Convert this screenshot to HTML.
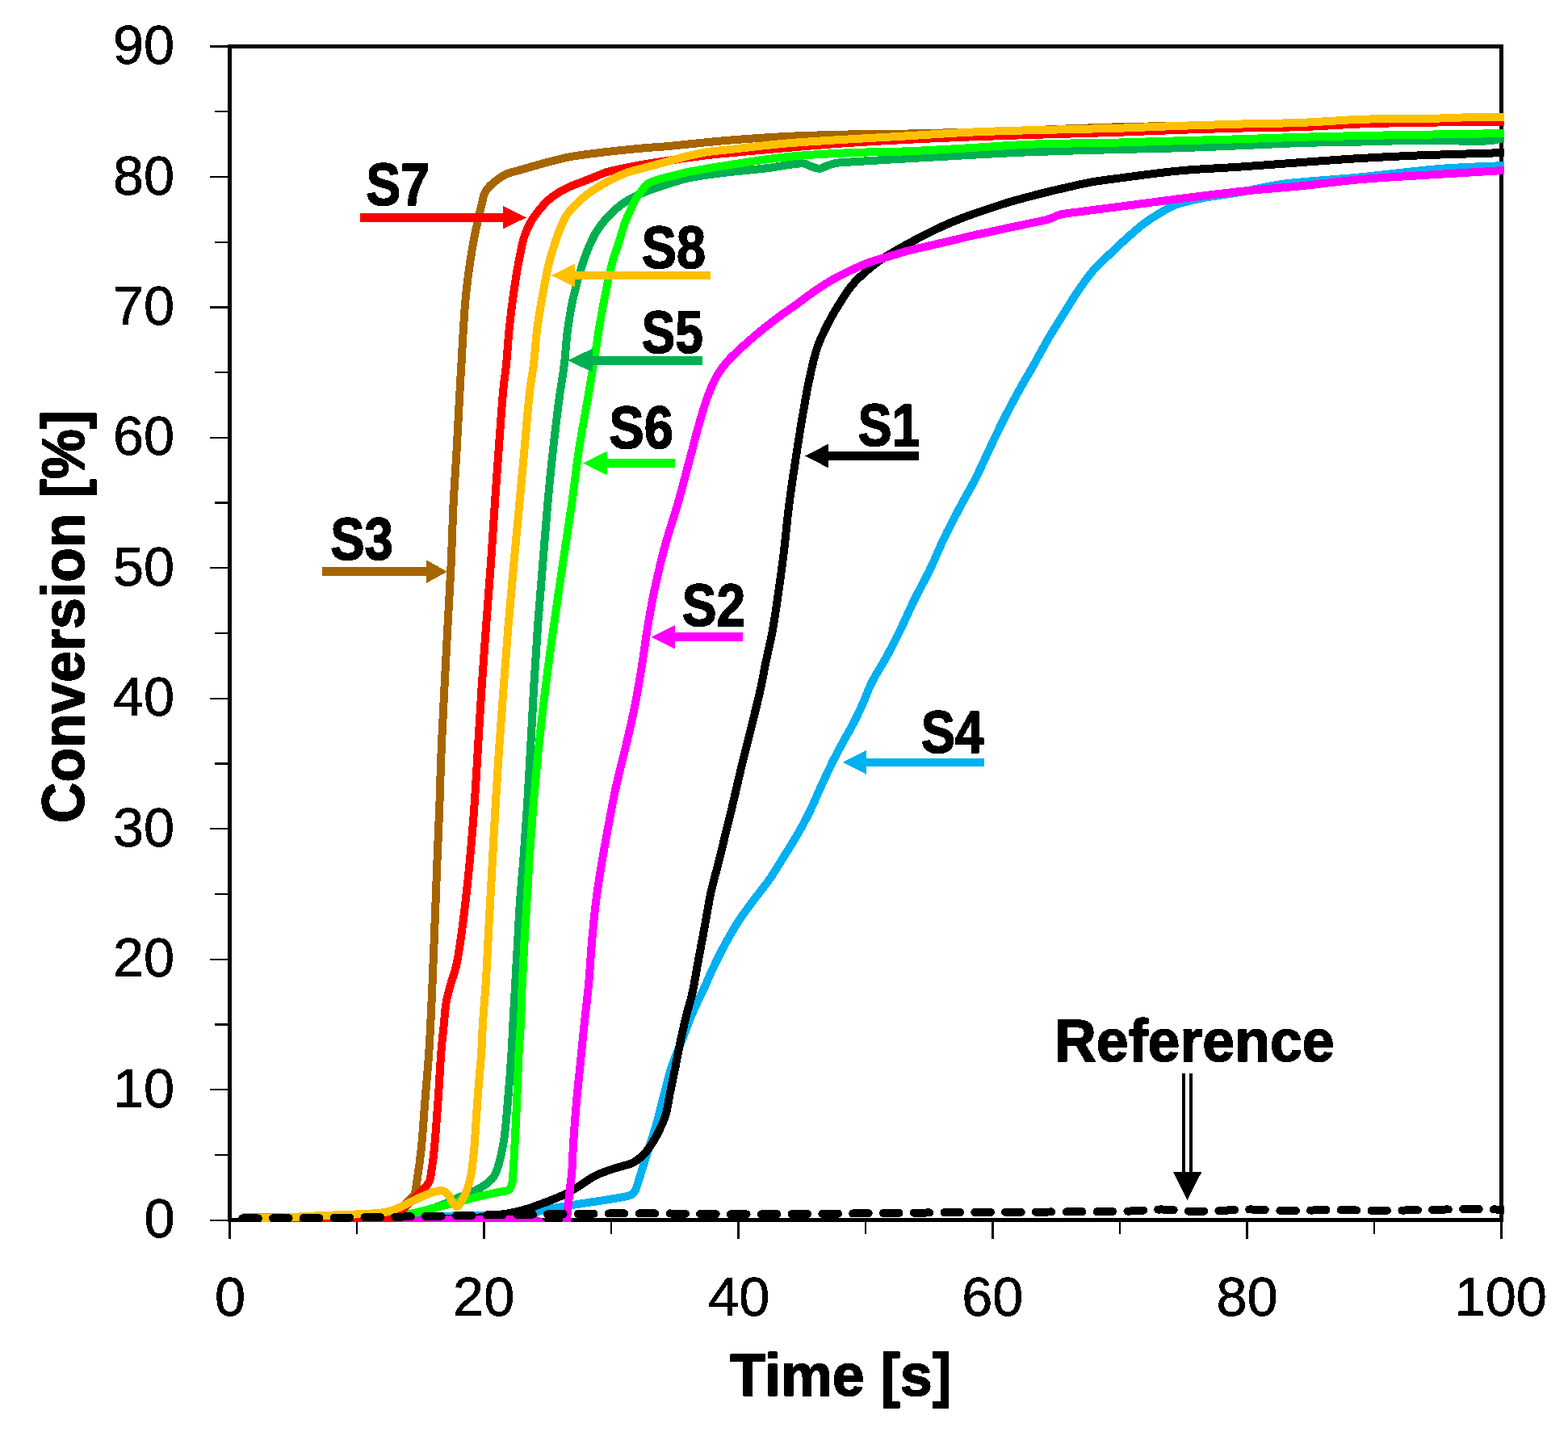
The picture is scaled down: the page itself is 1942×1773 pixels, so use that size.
<!DOCTYPE html>
<html lang="en"><head><meta charset="utf-8"><title>Conversion vs. Time</title>
<style>html,body{margin:0;padding:0;background:#fff;}body{width:1942px;height:1773px;overflow:hidden;}svg{display:block;}text{font-family:"Liberation Sans",sans-serif;fill:#000;}.b{font-weight:bold;}</style>
</head><body>
<svg xmlns="http://www.w3.org/2000/svg" width="1942" height="1773" viewBox="0 0 1942 1773" shape-rendering="crispEdges">
<rect width="1942" height="1773" fill="#fff"/>
<g stroke="#000" stroke-width="2.2" fill="none">
<line x1="260" y1="1510.60" x2="284.50" y2="1510.60"/>
<line x1="265.5" y1="1429.87" x2="284.50" y2="1429.87"/>
<line x1="260" y1="1349.14" x2="284.50" y2="1349.14"/>
<line x1="265.5" y1="1268.42" x2="284.50" y2="1268.42"/>
<line x1="260" y1="1187.69" x2="284.50" y2="1187.69"/>
<line x1="265.5" y1="1106.96" x2="284.50" y2="1106.96"/>
<line x1="260" y1="1026.23" x2="284.50" y2="1026.23"/>
<line x1="265.5" y1="945.51" x2="284.50" y2="945.51"/>
<line x1="260" y1="864.78" x2="284.50" y2="864.78"/>
<line x1="265.5" y1="784.05" x2="284.50" y2="784.05"/>
<line x1="260" y1="703.32" x2="284.50" y2="703.32"/>
<line x1="265.5" y1="622.59" x2="284.50" y2="622.59"/>
<line x1="260" y1="541.87" x2="284.50" y2="541.87"/>
<line x1="265.5" y1="461.14" x2="284.50" y2="461.14"/>
<line x1="260" y1="380.41" x2="284.50" y2="380.41"/>
<line x1="265.5" y1="299.68" x2="284.50" y2="299.68"/>
<line x1="260" y1="218.96" x2="284.50" y2="218.96"/>
<line x1="265.5" y1="138.23" x2="284.50" y2="138.23"/>
<line x1="260" y1="57.50" x2="284.50" y2="57.50"/>
<line x1="284.50" y1="1510.60" x2="284.50" y2="1533.8"/>
<line x1="442.00" y1="1510.60" x2="442.00" y2="1527.6"/>
<line x1="599.51" y1="1510.60" x2="599.51" y2="1533.8"/>
<line x1="757.01" y1="1510.60" x2="757.01" y2="1527.6"/>
<line x1="914.52" y1="1510.60" x2="914.52" y2="1533.8"/>
<line x1="1072.03" y1="1510.60" x2="1072.03" y2="1527.6"/>
<line x1="1229.53" y1="1510.60" x2="1229.53" y2="1533.8"/>
<line x1="1387.04" y1="1510.60" x2="1387.04" y2="1527.6"/>
<line x1="1544.54" y1="1510.60" x2="1544.54" y2="1533.8"/>
<line x1="1702.05" y1="1510.60" x2="1702.05" y2="1527.6"/>
<line x1="1859.55" y1="1510.60" x2="1859.55" y2="1533.8"/>
</g>
<rect x="284.50" y="57.50" width="1575.05" height="1453.10" fill="none" stroke="#000" stroke-width="5.0"/>
<defs><filter id="bw" x="-5%" y="-5%" width="110%" height="110%" color-interpolation-filters="sRGB"><feComponentTransfer><feFuncA type="discrete" tableValues="0 1"/></feComponentTransfer></filter><clipPath id="pc"><rect x="282" y="55" width="1580.9" height="1458"/></clipPath></defs>
<g fill="none" stroke-width="10.0" stroke-linejoin="round" stroke-linecap="butt" clip-path="url(#pc)">
<path d="M300.20,1510.00 C360.13,1509.50 441.58,1509.14 480.00,1508.50 C498.12,1508.20 506.67,1508.00 520.00,1507.50 C533.34,1507.00 546.66,1505.92 560.00,1505.50 C573.33,1505.08 587.62,1505.18 600.00,1505.00 C610.72,1504.84 621.01,1504.80 630.00,1504.50 C637.34,1504.26 644.07,1504.15 650.00,1503.50 C654.82,1502.97 659.23,1502.23 663.00,1501.30 C665.99,1500.56 667.86,1499.49 670.90,1498.70 C674.90,1497.66 680.22,1496.87 685.00,1496.00 C689.92,1495.10 694.36,1494.33 700.00,1493.40 C707.27,1492.20 716.66,1490.78 725.00,1489.50 C733.33,1488.23 741.40,1487.17 750.00,1485.75 C759.20,1484.23 772.94,1482.25 778.50,1480.60 C780.90,1479.89 782.11,1479.62 783.50,1478.50 C784.98,1477.31 785.87,1475.76 787.00,1473.50 C788.91,1469.69 790.44,1463.20 792.43,1457.00 C795.00,1449.04 797.93,1439.54 801.04,1429.68 C804.71,1418.04 809.43,1404.28 813.06,1391.63 C816.62,1379.22 819.48,1366.45 822.65,1354.50 C825.63,1343.30 827.95,1332.94 831.54,1322.00 C835.33,1310.46 840.60,1298.45 845.00,1287.00 C849.24,1275.97 852.94,1265.21 857.50,1254.50 C862.10,1243.71 868.05,1232.25 872.50,1222.50 C876.22,1214.36 878.73,1207.99 882.50,1200.00 C886.90,1190.67 892.14,1179.91 897.50,1170.00 C902.96,1159.91 908.71,1149.63 915.00,1140.00 C921.22,1130.47 928.39,1121.42 935.00,1112.50 C941.34,1103.94 948.02,1095.96 953.87,1087.50 C959.55,1079.28 964.33,1071.05 969.66,1062.50 C975.24,1053.57 981.24,1044.24 986.60,1035.00 C991.88,1025.90 996.80,1017.14 1001.60,1007.50 C1006.72,997.21 1011.31,985.81 1016.30,975.00 C1021.30,964.15 1026.55,952.58 1031.58,942.50 C1036.05,933.55 1040.42,925.58 1044.82,917.42 C1049.06,909.58 1053.56,902.12 1057.51,894.45 C1061.35,886.98 1064.70,879.87 1068.25,872.00 C1072.10,863.46 1075.09,854.31 1079.71,845.00 C1084.97,834.40 1092.65,822.98 1098.60,812.00 C1104.39,801.32 1109.55,791.14 1115.00,780.00 C1120.85,768.05 1126.39,754.94 1132.50,742.50 C1138.67,729.94 1145.80,717.58 1151.87,705.00 C1157.85,692.58 1162.75,679.93 1168.70,667.50 C1174.72,654.93 1181.24,642.46 1187.80,630.00 C1194.41,617.45 1201.83,605.09 1208.22,592.50 C1214.51,580.09 1219.91,567.48 1225.88,555.00 C1231.85,542.48 1237.71,529.94 1244.03,517.50 C1250.41,504.94 1257.94,490.86 1264.00,480.00 C1268.74,471.50 1272.29,465.98 1277.12,457.50 C1283.33,446.61 1290.98,431.98 1298.00,420.00 C1304.62,408.70 1311.38,398.10 1318.00,387.50 C1324.38,377.28 1330.46,366.91 1337.00,357.50 C1343.15,348.65 1349.56,339.76 1356.00,332.50 C1361.59,326.19 1367.31,321.44 1373.00,316.00 C1378.65,310.60 1383.67,305.72 1390.00,300.00 C1397.69,293.06 1407.41,284.00 1416.00,277.50 C1423.66,271.71 1431.75,266.65 1438.80,262.50 C1444.57,259.10 1448.56,256.48 1455.00,254.00 C1463.52,250.72 1474.37,248.43 1486.00,246.00 C1500.62,242.94 1519.36,240.87 1536.00,237.92 C1552.69,234.96 1566.39,231.02 1586.00,228.25 C1613.53,224.36 1652.68,222.49 1686.00,219.25 C1719.35,216.00 1754.49,211.19 1786.00,208.78 C1814.12,206.62 1839.33,206.19 1866.00,204.90" stroke="#00B0F0"/>
<path d="M300.20,1510.00 C373.47,1509.83 472.68,1510.03 520.00,1509.50 C542.57,1509.25 555.45,1509.01 570.00,1508.50 C581.27,1508.11 592.27,1507.83 600.00,1507.00 C604.92,1506.47 607.92,1505.65 612.00,1505.00 C616.24,1504.32 620.52,1503.75 625.00,1503.00 C629.83,1502.19 635.03,1501.46 640.00,1500.30 C645.03,1499.13 649.95,1497.61 655.00,1496.00 C660.25,1494.33 665.77,1492.28 670.90,1490.40 C675.75,1488.62 680.20,1486.96 685.00,1485.00 C690.09,1482.92 695.57,1480.72 700.60,1478.20 C705.56,1475.71 709.71,1473.20 715.00,1470.00 C721.71,1465.94 729.80,1459.48 737.50,1455.59 C744.82,1451.90 753.97,1449.04 760.00,1447.00 C763.97,1445.66 766.34,1445.20 770.00,1444.04 C774.51,1442.62 780.24,1441.68 785.00,1439.00 C790.30,1436.01 795.54,1431.32 800.00,1426.29 C804.79,1420.88 808.64,1414.44 812.50,1407.33 C816.96,1399.11 821.78,1388.68 824.65,1379.50 C827.29,1371.09 827.80,1363.38 829.60,1354.50 C831.66,1344.35 834.21,1332.53 836.35,1321.90 C838.40,1311.76 840.09,1302.23 842.21,1292.13 C844.41,1281.61 846.80,1270.50 849.36,1260.00 C851.84,1249.80 854.88,1240.77 857.30,1230.00 C860.08,1217.67 862.15,1203.94 864.75,1190.00 C867.59,1174.73 870.91,1157.07 873.70,1142.00 C876.18,1128.60 877.94,1116.53 880.70,1104.00 C883.44,1091.54 887.12,1079.34 890.20,1067.00 C893.27,1054.68 896.30,1041.68 899.16,1030.00 C901.74,1019.47 903.87,1011.28 906.58,1000.00 C910.06,985.46 914.19,966.65 918.20,950.00 C922.21,933.32 926.66,916.23 930.63,900.00 C934.40,884.61 938.30,869.35 941.47,855.00 C944.35,841.96 946.49,829.54 948.99,817.50 C951.33,806.27 953.97,795.64 956.00,785.00 C957.94,774.82 959.36,765.57 961.00,755.00 C962.83,743.21 964.65,730.01 966.36,717.50 C968.07,705.01 969.66,693.41 971.27,680.00 C973.11,664.54 974.78,645.46 976.68,630.00 C978.32,616.59 980.02,604.99 981.83,592.50 C983.63,579.99 985.56,567.50 987.52,555.00 C989.48,542.50 991.29,530.72 993.57,517.50 C996.15,502.59 999.03,485.10 1002.30,470.00 C1005.32,456.04 1008.07,442.20 1012.30,430.00 C1016.08,419.10 1020.96,409.43 1025.80,400.00 C1030.34,391.16 1035.22,383.02 1040.30,375.00 C1045.24,367.20 1050.08,359.28 1055.80,352.50 C1061.29,346.00 1067.79,340.25 1073.80,335.00 C1079.29,330.21 1085.15,325.73 1090.30,322.10 C1094.54,319.11 1097.53,317.36 1102.30,314.50 C1109.08,310.43 1119.01,304.81 1127.30,300.30 C1135.35,295.92 1143.26,291.78 1151.32,287.80 C1159.34,283.85 1167.38,280.00 1175.54,276.50 C1183.64,273.02 1191.84,269.87 1200.09,266.83 C1208.33,263.80 1216.67,261.06 1225.00,258.30 C1233.31,255.53 1241.64,252.75 1250.00,250.25 C1258.31,247.78 1266.66,245.59 1275.00,243.38 C1283.32,241.17 1291.65,239.02 1300.00,237.00 C1308.32,234.98 1316.66,233.13 1325.00,231.25 C1333.33,229.38 1340.88,227.40 1350.00,225.75 C1360.88,223.78 1371.81,222.52 1386.00,220.64 C1406.45,217.93 1435.97,213.74 1461.00,211.40 C1485.97,209.06 1511.00,208.32 1536.00,206.60 C1561.00,204.88 1586.00,202.88 1611.00,201.10 C1636.00,199.32 1660.99,197.42 1686.00,195.94 C1710.99,194.47 1733.90,193.34 1761.00,192.25 C1793.06,190.96 1831.00,190.08 1866.00,189.00" stroke="#000000"/>
<path d="M300.20,1510.60 C366.80,1510.60 437.09,1510.60 500.00,1510.60 C556.29,1510.60 640.55,1508.32 660.00,1510.60 C664.41,1511.12 665.50,1511.16 668.00,1512.50 C670.89,1514.05 672.48,1518.14 676.00,1520.00 C680.56,1522.41 689.85,1524.86 694.00,1524.00 C696.52,1523.48 698.21,1521.90 699.50,1520.00 C701.01,1517.78 701.19,1514.47 701.80,1511.00 C702.61,1506.39 702.78,1500.69 703.40,1494.70 C704.17,1487.32 705.24,1477.58 706.10,1470.00 C706.83,1463.52 707.61,1459.00 708.20,1452.00 C709.02,1442.27 709.20,1429.70 710.00,1417.00 C710.96,1401.81 712.29,1383.66 713.75,1367.00 C715.21,1350.32 717.08,1333.67 718.75,1317.00 C720.42,1300.33 722.01,1283.66 723.75,1267.00 C725.49,1250.33 727.66,1233.68 729.20,1217.00 C730.73,1200.35 731.50,1183.66 732.96,1167.00 C734.43,1150.32 735.91,1133.64 738.00,1117.00 C740.09,1100.31 742.86,1083.02 745.50,1067.00 C747.95,1052.11 750.45,1038.86 753.23,1024.00 C756.23,1007.95 759.29,990.62 762.94,974.00 C766.59,957.29 771.25,940.69 775.14,924.00 C779.02,907.35 782.93,890.70 786.25,874.00 C789.55,857.37 792.29,840.68 795.00,824.00 C797.71,807.35 799.68,790.64 802.50,774.00 C805.33,757.31 808.36,740.62 811.95,724.00 C815.56,707.29 819.56,690.60 824.10,674.00 C828.68,657.27 834.42,641.16 839.34,624.00 C844.51,605.98 849.71,585.60 854.32,568.34 C858.33,553.34 861.75,539.38 865.50,526.27 C868.82,514.63 871.72,503.84 875.54,493.50 C879.11,483.83 883.01,473.95 887.50,466.00 C891.31,459.26 895.39,453.85 900.00,448.40 C904.57,443.01 909.41,438.70 915.00,433.46 C921.66,427.21 929.71,420.09 937.50,413.58 C945.52,406.88 954.08,400.14 962.50,393.85 C970.75,387.69 979.66,381.85 987.50,376.19 C994.57,371.08 1000.56,366.22 1007.50,361.42 C1014.70,356.44 1022.62,351.14 1030.00,346.87 C1036.76,342.96 1042.92,340.01 1050.00,336.60 C1057.82,332.83 1066.56,328.51 1075.00,325.35 C1083.23,322.27 1091.66,320.27 1100.00,317.78 C1108.33,315.30 1116.64,312.66 1125.00,310.44 C1133.30,308.23 1141.66,306.45 1150.00,304.50 C1158.33,302.55 1166.66,300.72 1175.00,298.75 C1183.37,296.77 1191.76,294.55 1200.12,292.64 C1208.40,290.74 1216.64,289.14 1224.93,287.34 C1233.26,285.53 1241.64,283.58 1250.00,281.80 C1258.33,280.02 1266.68,278.45 1275.00,276.65 C1283.34,274.85 1293.17,273.16 1300.00,271.00 C1304.96,269.44 1307.52,267.24 1312.50,265.88 C1319.31,264.01 1329.16,263.35 1337.50,262.19 C1345.83,261.02 1354.29,259.93 1362.50,258.88 C1370.45,257.85 1375.96,257.21 1386.00,255.92 C1403.95,253.62 1435.99,249.24 1461.00,246.09 C1485.99,242.95 1510.98,239.68 1536.00,237.05 C1560.98,234.42 1586.01,232.80 1611.00,230.30 C1636.01,227.80 1660.98,224.26 1686.00,222.05 C1710.98,219.84 1733.90,218.76 1761.00,217.05 C1793.06,215.03 1831.00,212.88 1866.00,210.80" stroke="#FF00FF"/>
<path d="M300.20,1509.00 C333.47,1508.50 369.68,1508.38 400.00,1507.50 C425.40,1506.76 452.71,1507.74 470.00,1504.50 C480.61,1502.51 488.52,1499.81 495.00,1496.00 C500.01,1493.05 503.45,1488.50 506.70,1485.40 C509.13,1483.09 511.33,1482.13 512.90,1479.20 C515.20,1474.90 515.39,1467.95 516.60,1460.70 C518.31,1450.49 520.11,1437.56 521.60,1423.60 C523.52,1405.64 524.85,1382.40 526.50,1361.80 C528.15,1341.20 530.07,1322.13 531.50,1300.00 C533.16,1274.38 534.35,1243.97 535.55,1217.00 C536.69,1191.37 537.60,1167.00 538.57,1142.00 C539.55,1117.00 540.44,1091.39 541.42,1067.00 C542.35,1043.78 543.40,1022.22 544.28,999.00 C545.21,974.61 545.79,949.00 546.84,924.00 C547.89,899.00 549.30,874.00 550.58,849.00 C551.86,824.00 553.18,799.00 554.52,774.00 C555.86,749.00 557.45,724.00 558.63,699.00 C559.81,674.00 560.39,648.38 561.60,624.00 C562.75,600.77 564.34,579.22 565.65,556.00 C567.03,531.61 568.57,500.25 569.65,481.00 C570.33,468.95 570.77,462.41 571.40,451.60 C572.17,438.30 572.95,421.64 573.90,407.10 C574.82,393.10 575.61,379.62 576.99,365.90 C578.38,352.15 580.30,337.64 582.22,324.70 C583.94,313.10 585.85,301.78 587.80,291.80 C589.45,283.40 591.33,275.74 592.94,268.70 C594.29,262.76 595.49,257.46 596.79,252.30 C597.95,247.65 598.55,242.84 600.30,239.10 C601.79,235.92 603.94,233.32 606.02,231.00 C607.89,228.91 609.80,227.51 612.07,225.66 C614.78,223.47 618.35,220.67 621.28,218.82 C623.72,217.28 625.40,216.26 628.30,215.08 C632.56,213.35 639.22,211.88 644.70,210.30 C650.19,208.72 655.70,207.15 661.20,205.60 C666.70,204.05 672.19,202.47 677.70,201.00 C683.19,199.54 688.69,198.07 694.20,196.80 C699.66,195.54 704.16,194.50 710.60,193.40 C719.67,191.85 732.60,190.31 743.60,188.97 C754.57,187.63 766.46,186.36 776.50,185.34 C784.97,184.47 791.99,183.80 799.94,183.13 C808.14,182.44 815.19,182.11 824.95,181.25 C838.77,180.04 861.12,177.58 874.95,176.24 C884.75,175.29 889.45,174.74 900.07,173.89 C918.38,172.43 950.01,170.17 975.00,168.94 C999.98,167.71 1025.00,167.07 1050.00,166.50 C1075.00,165.93 1100.00,165.96 1125.00,165.50 C1150.00,165.04 1175.00,164.46 1200.00,163.75 C1225.00,163.04 1247.59,162.20 1275.00,161.25 C1308.28,160.09 1342.61,158.45 1385.50,157.25 C1445.25,155.58 1524.66,154.31 1600.00,153.00 C1683.90,151.54 1777.33,150.33 1866.00,149.00" stroke="#A66500"/>
<path d="M300.20,1508.00 C350.13,1507.67 413.44,1508.04 450.00,1507.00 C471.14,1506.40 486.24,1506.21 500.00,1504.50 C509.82,1503.28 516.78,1501.74 525.00,1499.50 C533.31,1497.24 542.65,1493.71 549.60,1490.98 C554.85,1488.90 558.75,1486.93 563.22,1484.94 C567.55,1483.01 571.76,1481.00 576.00,1479.20 C580.12,1477.45 584.27,1476.29 588.30,1474.30 C592.51,1472.22 596.91,1469.66 600.70,1466.90 C604.32,1464.27 608.09,1461.47 610.60,1458.20 C612.90,1455.21 614.10,1451.84 615.50,1448.30 C617.01,1444.48 617.99,1440.84 619.20,1436.00 C620.90,1429.20 622.74,1420.92 624.20,1411.20 C626.24,1397.58 627.59,1379.20 629.10,1361.80 C630.79,1342.36 632.60,1317.40 633.70,1300.00 C634.50,1287.29 634.75,1279.14 635.40,1267.00 C636.21,1252.06 637.29,1233.67 638.23,1217.00 C639.18,1200.33 640.12,1183.67 641.08,1167.00 C642.03,1150.33 642.78,1133.66 643.95,1117.00 C645.11,1100.33 646.70,1084.95 648.07,1067.00 C649.67,1046.08 651.36,1022.23 652.85,999.00 C654.42,974.62 655.81,949.00 657.21,924.00 C658.62,899.00 659.81,874.00 661.29,849.00 C662.78,824.00 664.31,798.99 666.12,774.00 C667.93,748.99 670.15,724.00 672.18,699.00 C674.20,674.00 676.06,648.38 678.27,624.00 C680.37,600.77 682.60,578.18 685.05,556.00 C687.39,534.71 690.09,512.24 692.61,493.50 C694.67,478.13 697.05,465.80 698.80,451.60 C700.60,437.01 701.18,421.61 703.20,407.10 C705.15,393.06 707.46,379.56 710.60,365.90 C713.78,352.09 718.41,336.13 722.20,324.70 C724.97,316.33 727.50,309.89 730.40,303.30 C733.00,297.40 735.50,291.99 738.60,286.90 C741.57,282.03 744.91,277.60 748.50,273.31 C752.08,269.03 755.98,264.94 760.10,261.19 C764.21,257.44 768.67,253.87 773.20,250.79 C777.59,247.81 782.27,245.24 786.82,242.95 C791.15,240.77 795.53,239.00 799.83,237.29 C803.96,235.64 807.66,234.37 812.12,232.84 C817.38,231.03 823.38,229.09 829.40,227.20 C835.95,225.14 842.75,222.70 850.00,221.00 C857.88,219.15 866.65,218.00 875.00,216.75 C883.32,215.50 890.23,214.65 900.00,213.50 C913.80,211.88 933.78,210.14 950.00,208.25 C965.41,206.46 985.47,201.39 995.00,202.50 C999.62,203.04 1001.64,205.20 1005.00,206.25 C1008.30,207.28 1011.70,208.94 1015.00,208.75 C1018.36,208.56 1021.65,206.13 1025.00,205.00 C1028.31,203.88 1031.29,202.70 1035.00,202.00 C1039.46,201.16 1043.09,201.25 1050.00,200.75 C1065.45,199.64 1100.00,197.71 1125.00,196.25 C1150.00,194.79 1175.00,193.33 1200.00,192.00 C1225.00,190.67 1247.55,189.34 1275.00,188.25 C1308.38,186.93 1352.61,185.88 1386.00,185.00 C1413.44,184.28 1436.00,184.04 1461.00,183.25 C1486.00,182.46 1511.00,181.28 1536.00,180.25 C1561.00,179.22 1586.00,177.83 1611.00,177.04 C1636.00,176.25 1661.00,176.06 1686.00,175.51 C1711.00,174.96 1735.22,174.00 1761.00,173.75 C1788.45,173.50 1827.55,176.00 1846.00,174.14 C1855.04,173.23 1859.33,171.36 1866.00,169.96" stroke="#00B050"/>
<path d="M300.20,1507.20 C315.47,1507.13 327.65,1507.17 346.00,1507.00 C373.66,1506.74 422.38,1505.79 450.00,1505.50 C468.29,1505.31 483.80,1506.40 495.60,1505.20 C503.21,1504.42 507.58,1502.99 514.20,1501.50 C521.87,1499.78 530.67,1497.37 538.90,1495.30 C547.13,1493.23 555.97,1491.07 563.60,1489.10 C570.22,1487.39 575.91,1485.77 582.10,1484.20 C588.31,1482.62 594.59,1481.07 600.80,1479.65 C606.93,1478.25 613.76,1476.96 619.12,1475.73 C623.34,1474.77 627.89,1475.00 630.40,1473.00 C632.52,1471.31 633.28,1468.40 634.10,1465.60 C635.05,1462.35 634.91,1459.13 635.30,1454.50 C635.95,1446.79 636.54,1435.67 637.20,1423.60 C638.14,1406.54 639.28,1382.40 640.20,1361.80 C641.12,1341.20 641.74,1317.39 642.70,1300.00 C643.40,1287.28 644.36,1279.14 645.00,1267.00 C645.78,1252.06 646.01,1233.66 646.75,1217.00 C647.49,1200.33 648.48,1183.67 649.42,1167.00 C650.37,1150.33 651.43,1133.67 652.43,1117.00 C653.43,1100.33 654.23,1084.94 655.44,1067.00 C656.84,1046.07 658.53,1022.21 660.45,999.00 C662.47,974.60 664.77,948.99 667.34,924.00 C669.93,898.99 672.83,873.99 675.93,849.00 C679.04,823.99 682.49,798.99 685.98,774.00 C689.47,748.99 693.17,724.00 696.86,699.00 C700.55,674.00 704.70,648.40 708.14,624.00 C711.42,600.79 713.73,578.15 717.12,556.00 C720.38,534.69 724.57,513.53 728.00,493.50 C731.17,474.98 734.51,455.69 737.00,440.00 C738.95,427.72 739.99,418.67 741.90,407.10 C744.05,394.12 746.65,379.61 749.40,365.90 C752.16,352.14 755.17,336.62 758.42,324.70 C760.96,315.35 763.87,308.24 766.50,300.00 C769.12,291.78 771.43,282.64 774.18,275.30 C776.48,269.17 779.21,263.79 781.48,258.80 C783.38,254.61 784.74,250.90 786.83,247.30 C788.88,243.78 791.61,240.50 793.87,237.40 C795.91,234.60 797.60,231.55 799.80,229.50 C801.70,227.73 803.15,226.82 806.00,225.50 C811.19,223.11 821.82,220.55 829.40,218.50 C836.46,216.59 842.78,215.05 850.00,213.50 C857.91,211.80 866.66,210.30 875.00,208.83 C883.33,207.37 889.42,206.33 900.00,204.71 C918.29,201.91 949.95,196.70 975.00,194.13 C999.95,191.56 1024.99,190.42 1050.00,189.27 C1074.99,188.13 1100.01,188.25 1125.00,187.25 C1150.01,186.25 1175.00,184.67 1200.00,183.25 C1225.00,181.83 1247.55,179.85 1275.00,178.75 C1308.37,177.41 1352.62,177.34 1386.00,176.50 C1413.44,175.81 1436.00,174.96 1461.00,174.25 C1486.00,173.54 1511.00,173.00 1536.00,172.25 C1561.00,171.50 1586.00,170.46 1611.00,169.75 C1636.00,169.04 1661.00,168.50 1686.00,168.00 C1711.00,167.50 1733.90,167.20 1761.00,166.75 C1793.06,166.22 1831.00,165.58 1866.00,165.00" stroke="#00FF00"/>
<path d="M300.20,1510.00 C356.80,1509.83 443.62,1510.80 470.00,1509.50 C478.04,1509.10 481.61,1509.55 485.70,1508.00 C488.79,1506.83 490.39,1504.85 493.00,1502.70 C496.37,1499.93 500.36,1495.91 503.98,1492.47 C507.57,1489.06 511.17,1485.59 514.64,1482.17 C518.01,1478.85 521.59,1475.58 524.51,1472.26 C527.15,1469.26 529.84,1466.82 531.50,1463.20 C533.42,1459.03 533.67,1453.91 534.60,1448.30 C535.80,1441.12 536.67,1433.70 537.70,1423.60 C539.33,1407.66 541.12,1382.41 542.60,1361.80 C544.08,1341.21 545.16,1317.38 546.60,1300.00 C547.65,1287.28 548.88,1277.24 549.92,1267.00 C550.83,1258.09 551.07,1250.29 552.50,1242.00 C553.94,1233.62 556.39,1224.84 558.57,1217.00 C560.53,1209.93 563.03,1204.41 564.82,1197.00 C566.98,1188.07 568.32,1178.29 570.03,1167.00 C572.22,1152.47 574.52,1133.68 576.48,1117.00 C578.42,1100.34 580.04,1084.96 581.73,1067.00 C583.70,1046.08 585.70,1022.23 587.39,999.00 C589.16,974.62 590.50,949.00 592.06,924.00 C593.61,899.00 595.04,874.00 596.72,849.00 C598.40,824.00 600.29,799.00 602.13,774.00 C603.98,749.00 606.03,724.00 607.81,699.00 C609.60,674.00 611.15,648.39 612.83,624.00 C614.44,600.78 615.97,579.22 617.70,556.00 C619.50,531.61 621.56,500.24 623.46,481.00 C624.65,468.93 625.90,462.42 627.00,451.60 C628.35,438.31 629.21,421.63 630.70,407.10 C632.13,393.09 633.77,379.61 635.70,365.90 C637.64,352.15 639.81,337.63 642.30,324.70 C644.54,313.08 646.71,300.77 649.70,291.80 C651.89,285.23 654.24,280.37 657.10,275.30 C659.79,270.52 662.85,266.40 666.20,262.10 C669.69,257.62 673.68,252.79 677.70,249.00 C681.38,245.53 685.12,242.72 689.20,240.02 C693.35,237.28 697.68,234.96 702.40,232.70 C707.53,230.25 713.39,228.19 718.90,225.98 C724.39,223.77 729.91,221.62 735.40,219.45 C740.87,217.30 746.26,214.73 751.80,213.02 C757.23,211.34 762.79,210.42 768.30,209.22 C773.79,208.02 779.41,206.86 784.80,205.80 C789.96,204.79 794.28,203.95 799.98,203.00 C807.26,201.79 816.60,200.55 824.94,199.32 C833.30,198.09 841.69,196.80 850.06,195.62 C858.38,194.44 866.67,193.23 875.00,192.25 C883.32,191.27 888.16,190.85 900.00,189.75 C928.98,187.07 999.97,180.38 1050.00,177.00 C1099.97,173.63 1147.30,171.63 1200.00,169.50 C1258.66,167.13 1337.84,165.44 1386.00,163.75 C1416.58,162.68 1436.00,161.66 1461.00,160.80 C1486.00,159.94 1511.00,159.18 1536.00,158.57 C1561.00,157.96 1586.01,157.99 1611.00,157.13 C1636.01,156.28 1660.99,154.34 1686.00,153.44 C1710.99,152.55 1733.90,152.22 1761.00,151.75 C1793.06,151.20 1831.00,150.92 1866.00,150.50" stroke="#FF0000"/>
<path d="M300.20,1508.30 C313.47,1508.20 327.67,1508.35 340.00,1508.00 C350.71,1507.69 360.00,1507.00 370.00,1506.50 C380.00,1506.00 389.28,1505.47 400.00,1505.00 C412.37,1504.46 426.92,1504.20 440.00,1503.50 C452.60,1502.82 468.13,1502.54 477.10,1500.90 C482.37,1499.93 485.34,1498.72 489.40,1497.20 C493.58,1495.64 497.69,1493.56 501.80,1491.60 C505.95,1489.62 510.05,1487.36 514.20,1485.40 C518.29,1483.47 522.60,1481.52 526.50,1479.90 C529.96,1478.46 533.17,1477.05 536.40,1476.10 C539.36,1475.23 542.61,1474.40 545.10,1474.30 C546.96,1474.22 548.46,1474.22 550.00,1474.90 C551.79,1475.69 553.39,1477.31 555.00,1479.20 C557.14,1481.70 559.00,1486.47 561.10,1489.10 C562.73,1491.14 564.49,1494.10 566.10,1494.00 C567.80,1493.90 569.34,1490.49 571.00,1487.90 C573.42,1484.12 576.37,1478.34 578.40,1473.00 C580.57,1467.27 582.04,1461.51 583.40,1454.50 C585.13,1445.57 585.96,1435.68 587.10,1423.60 C588.71,1406.55 589.85,1382.40 591.40,1361.80 C592.95,1341.20 595.29,1317.40 596.40,1300.00 C597.21,1287.30 597.21,1279.13 597.95,1267.00 C598.86,1252.05 600.53,1235.36 601.70,1217.00 C603.14,1194.53 604.32,1167.00 605.68,1142.00 C607.03,1117.00 608.48,1091.39 609.83,1067.00 C611.12,1043.78 612.24,1022.22 613.61,999.00 C615.06,974.61 616.63,949.00 618.34,924.00 C620.04,899.00 621.96,874.00 623.84,849.00 C625.71,824.00 627.53,798.99 629.60,774.00 C631.67,748.99 633.98,724.00 636.26,699.00 C638.54,674.00 641.02,648.39 643.28,624.00 C645.43,600.78 647.37,579.22 649.52,556.00 C651.77,531.61 654.14,500.23 656.48,481.00 C657.94,468.92 659.55,462.43 660.90,451.60 C662.56,438.32 663.42,421.62 665.30,407.10 C667.12,393.07 669.42,379.61 671.90,365.90 C674.39,352.14 677.22,336.63 680.20,324.70 C682.54,315.36 685.09,307.56 687.60,300.00 C689.77,293.46 691.70,287.73 694.20,281.90 C696.65,276.20 699.05,270.39 702.40,265.40 C705.65,260.55 709.79,256.41 713.90,252.30 C718.02,248.17 722.32,244.35 727.10,240.70 C732.17,236.84 738.03,233.18 743.60,229.85 C749.03,226.61 754.55,223.68 760.10,220.96 C765.52,218.31 770.46,215.87 776.50,213.72 C783.53,211.22 791.96,209.46 799.90,207.30 C808.12,205.06 816.64,202.77 825.00,200.50 C833.34,198.23 841.64,195.72 850.00,193.68 C858.31,191.65 866.63,189.64 875.00,188.28 C883.30,186.93 889.43,186.66 900.00,185.51 C918.30,183.51 949.98,179.59 975.00,177.42 C999.98,175.25 1025.00,174.03 1050.00,172.50 C1075.00,170.97 1100.00,169.71 1125.00,168.25 C1150.00,166.79 1174.99,164.92 1200.00,163.75 C1224.99,162.58 1247.56,162.02 1275.00,161.25 C1308.38,160.32 1352.62,159.78 1386.00,158.75 C1413.45,157.90 1436.00,156.66 1461.00,155.80 C1486.00,154.94 1511.00,154.22 1536.00,153.57 C1561.00,152.92 1588.53,152.76 1611.00,151.88 C1629.36,151.17 1647.19,149.87 1661.00,149.09 C1670.76,148.55 1675.43,148.02 1686.00,147.69 C1704.30,147.13 1738.53,147.71 1761.00,147.25 C1779.35,146.87 1793.93,145.80 1811.00,145.50 C1828.89,145.19 1847.67,145.50 1866.00,145.50" stroke="#FFC000"/>
<path d="M300.20,1508.50 C333.47,1508.33 366.72,1508.33 400.00,1508.00 C433.32,1507.67 466.67,1507.08 500.00,1506.50 C533.33,1505.92 567.54,1505.06 600.00,1504.50 C630.79,1503.97 658.50,1503.56 690.00,1503.20 C724.83,1502.81 764.21,1502.27 800.00,1502.30 C834.13,1502.33 866.67,1503.18 900.00,1503.30 C933.33,1503.42 966.67,1503.22 1000.00,1503.00 C1033.33,1502.78 1066.67,1502.33 1100.00,1502.00 C1133.33,1501.67 1166.67,1501.25 1200.00,1501.00 C1233.33,1500.75 1266.67,1500.75 1300.00,1500.50 C1333.33,1500.25 1374.18,1500.27 1400.00,1499.50 C1416.34,1499.01 1427.63,1497.40 1440.00,1497.50 C1450.72,1497.59 1459.99,1499.17 1470.00,1499.50 C1479.99,1499.83 1488.99,1499.74 1500.00,1499.50 C1513.49,1499.20 1529.25,1497.64 1545.00,1497.50 C1562.41,1497.35 1582.10,1498.93 1600.00,1499.00 C1617.06,1499.06 1633.33,1498.03 1650.00,1498.00 C1666.67,1497.97 1682.57,1498.75 1700.00,1498.80 C1719.09,1498.86 1740.00,1498.50 1760.00,1498.20 C1780.00,1497.90 1801.33,1497.02 1820.00,1497.00 C1836.35,1496.98 1850.67,1497.53 1866.00,1497.80" stroke="#000000" stroke-width="10" stroke-linecap="round" stroke-dasharray="19.6 18.2"/>
</g>
<g>
<rect x="446.00" y="263.90" width="177.50" height="10.8" fill="#FF0000"/><polygon points="652.00,269.30 622.50,254.70 622.50,283.90" fill="#FF0000"/>
<rect x="399.00" y="702.35" width="129.50" height="10.8" fill="#A66500"/><polygon points="553.75,707.75 527.50,693.15 527.50,722.35" fill="#A66500"/>
<rect x="711.00" y="335.60" width="168.50" height="10.8" fill="#FFC000"/><polygon points="682.50,341.00 712.00,326.40 712.00,355.60" fill="#FFC000"/>
<rect x="732.75" y="440.80" width="136.75" height="10.8" fill="#00B050"/><polygon points="703.00,446.20 733.75,431.60 733.75,460.80" fill="#00B050"/>
<rect x="750.75" y="568.10" width="84.75" height="10.8" fill="#00FF00"/><polygon points="722.00,573.50 751.75,558.90 751.75,588.10" fill="#00FF00"/>
<rect x="834.50" y="783.30" width="85.00" height="10.8" fill="#FF00FF"/><polygon points="806.25,788.70 835.50,774.10 835.50,803.30" fill="#FF00FF"/>
<rect x="1024.50" y="559.10" width="113.50" height="10.8" fill="#000000"/><polygon points="997.00,564.50 1025.50,549.90 1025.50,579.10" fill="#000000"/>
<rect x="1071.50" y="938.50" width="147.25" height="10.8" fill="#00B0F0"/><polygon points="1043.75,943.90 1072.50,929.30 1072.50,958.50" fill="#00B0F0"/>
<rect x="1464" y="1329" width="4.4" height="123" fill="#000"/>
<rect x="1472.9" y="1329" width="4.4" height="123" fill="#000"/>
<polygon points="1452.9,1451 1488.3,1451 1470.6,1485.8" fill="#000"/>
</g>
<g filter="url(#bw)">
<text transform="matrix(0.68500,0,0,0.69000,178.38,1532.20)" font-size="100" stroke="#000" stroke-width="1.0" stroke-linejoin="round">0</text>
<text transform="matrix(0.68500,0,0,0.69000,140.02,1370.74)" font-size="100" stroke="#000" stroke-width="1.0" stroke-linejoin="round">10</text>
<text transform="matrix(0.68500,0,0,0.69000,140.02,1209.29)" font-size="100" stroke="#000" stroke-width="1.0" stroke-linejoin="round">20</text>
<text transform="matrix(0.68500,0,0,0.69000,140.02,1047.83)" font-size="100" stroke="#000" stroke-width="1.0" stroke-linejoin="round">30</text>
<text transform="matrix(0.68500,0,0,0.69000,140.02,886.38)" font-size="100" stroke="#000" stroke-width="1.0" stroke-linejoin="round">40</text>
<text transform="matrix(0.68500,0,0,0.69000,140.02,724.92)" font-size="100" stroke="#000" stroke-width="1.0" stroke-linejoin="round">50</text>
<text transform="matrix(0.68500,0,0,0.69000,140.02,563.47)" font-size="100" stroke="#000" stroke-width="1.0" stroke-linejoin="round">60</text>
<text transform="matrix(0.68500,0,0,0.69000,140.02,402.01)" font-size="100" stroke="#000" stroke-width="1.0" stroke-linejoin="round">70</text>
<text transform="matrix(0.68500,0,0,0.69000,140.02,240.56)" font-size="100" stroke="#000" stroke-width="1.0" stroke-linejoin="round">80</text>
<text transform="matrix(0.68500,0,0,0.69000,140.02,79.10)" font-size="100" stroke="#000" stroke-width="1.0" stroke-linejoin="round">90</text>
<text transform="matrix(0.68500,0,0,0.69000,265.96,1629.00)" font-size="100" stroke="#000" stroke-width="1.0" stroke-linejoin="round">0</text>
<text transform="matrix(0.68500,0,0,0.69000,561.11,1629.00)" font-size="100" stroke="#000" stroke-width="1.0" stroke-linejoin="round">20</text>
<text transform="matrix(0.68500,0,0,0.69000,877.14,1629.00)" font-size="100" stroke="#000" stroke-width="1.0" stroke-linejoin="round">40</text>
<text transform="matrix(0.68500,0,0,0.69000,1191.13,1629.00)" font-size="100" stroke="#000" stroke-width="1.0" stroke-linejoin="round">60</text>
<text transform="matrix(0.68500,0,0,0.69000,1506.48,1629.00)" font-size="100" stroke="#000" stroke-width="1.0" stroke-linejoin="round">80</text>
<text transform="matrix(0.68500,0,0,0.69000,1801.62,1629.00)" font-size="100" stroke="#000" stroke-width="1.0" stroke-linejoin="round">100</text>
<text class="b" transform="matrix(0.64530,0,0,0.74500,453.21,253.90)" font-size="100" stroke="#000" stroke-width="2.2" stroke-linejoin="round">S7</text>
<text class="b" transform="matrix(0.63475,0,0,0.74500,409.23,692.70)" font-size="100" stroke="#000" stroke-width="2.2" stroke-linejoin="round">S3</text>
<text class="b" transform="matrix(0.64831,0,0,0.74500,794.70,331.60)" font-size="100" stroke="#000" stroke-width="2.2" stroke-linejoin="round">S8</text>
<text class="b" transform="matrix(0.62185,0,0,0.74500,794.76,437.40)" font-size="100" stroke="#000" stroke-width="2.2" stroke-linejoin="round">S5</text>
<text class="b" transform="matrix(0.65254,0,0,0.74500,754.19,554.90)" font-size="100" stroke="#000" stroke-width="2.2" stroke-linejoin="round">S6</text>
<text class="b" transform="matrix(0.64103,0,0,0.74500,844.72,775.40)" font-size="100" stroke="#000" stroke-width="2.2" stroke-linejoin="round">S2</text>
<text class="b" transform="matrix(0.63025,0,0,0.74500,1062.49,551.90)" font-size="100" stroke="#000" stroke-width="2.2" stroke-linejoin="round">S1</text>
<text class="b" transform="matrix(0.63430,0,0,0.74500,1140.73,931.90)" font-size="100" stroke="#000" stroke-width="2.2" stroke-linejoin="round">S4</text>
<text class="b" transform="matrix(0.71705,0,0,0.74500,1306.00,1314.00)" font-size="100" stroke="#000" stroke-width="2.2" stroke-linejoin="round">Reference</text>
<text class="b" transform="matrix(0.71936,0,0,0.74500,904.30,1727.60)" font-size="100" stroke="#000" stroke-width="2.2" stroke-linejoin="round">Time [s]</text>
<text class="b" transform="matrix(0,-0.69669,0.74500,0,104.20,1018.89)" font-size="100" stroke="#000" stroke-width="2.2" stroke-linejoin="round">Conversion [%]</text>
</g>
</svg></body></html>
